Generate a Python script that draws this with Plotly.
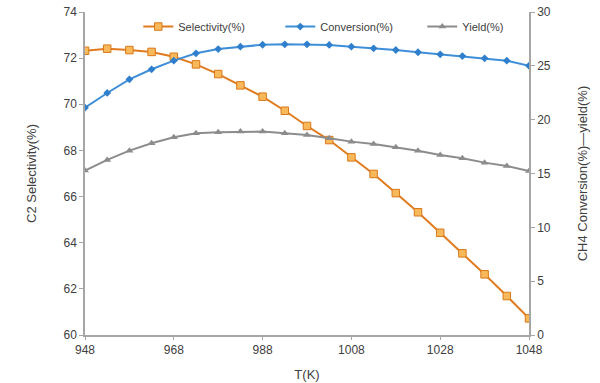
import plotly.graph_objects as go

temps = [948, 953, 958, 963, 968, 973, 978, 983, 988, 993, 998, 1003, 1008,
         1013, 1018, 1023, 1028, 1033, 1038, 1043, 1048]
selectivity = [72.32, 72.41, 72.35, 72.27, 72.06, 71.73, 71.31, 70.82, 70.33, 69.72,
               69.06, 68.45, 67.70, 66.98, 66.15, 65.32, 64.43, 63.54, 62.63, 61.69, 60.72]
conversion = [21.11, 22.48, 23.75, 24.68, 25.48, 26.16, 26.56, 26.78, 26.96, 27.0,
              27.0, 26.94, 26.78, 26.63, 26.47, 26.26, 26.07, 25.91, 25.70, 25.48, 25.01]
yield_ = [15.27, 16.26, 17.12, 17.81, 18.37, 18.74, 18.83, 18.89, 18.89, 18.74,
          18.58, 18.27, 17.96, 17.74, 17.44, 17.12, 16.72, 16.42, 16.01, 15.70, 15.24]

font_family = "Liberation Sans, Arial, sans-serif"
txt = "#404040"
axc = "#A6A6A6"

fig = go.Figure()
fig.add_trace(go.Scatter(
    x=temps, y=selectivity, name="Selectivity(%)", mode="lines+markers",
    line=dict(color="#E07B1F", width=2),
    marker=dict(symbol="square", size=7.5, color="#F8B95A",
                line=dict(color="#D9781A", width=1)),
    yaxis="y"))
fig.add_trace(go.Scatter(
    x=temps, y=conversion, name="Conversion(%)", mode="lines+markers",
    line=dict(color="#3F8FD8", width=2),
    marker=dict(symbol="diamond", size=6, color="#2F7FCC"),
    yaxis="y2"))
fig.add_trace(go.Scatter(
    x=temps, y=yield_, name="Yield(%)", mode="lines+markers",
    line=dict(color="#8C8C8C", width=2),
    marker=dict(symbol="triangle-up", size=7, color="#8C8C8C"),
    yaxis="y2"))

fig.update_layout(
    width=600, height=383,
    margin=dict(l=85, r=71, t=12, b=48),
    paper_bgcolor="white", plot_bgcolor="white",
    font=dict(family=font_family, size=12, color=txt),
    showlegend=True,
    legend=dict(orientation="h", x=0.12, y=0.955, xanchor="left", yanchor="middle",
                bgcolor="rgba(0,0,0,0)", font=dict(size=11, color=txt),
                itemwidth=30, tracegroupgap=0, entrywidth=97, entrywidthmode="pixels"),
    xaxis=dict(range=[948, 1048], tickvals=[948, 968, 988, 1008, 1028, 1048],
               showgrid=False, zeroline=False, showline=True, linecolor=axc, linewidth=1.5,
               ticks="outside", ticklen=3, tickcolor=axc, automargin=False,
               title=dict(text="T(K)", standoff=14, font=dict(size=13, color=txt)),
               tickfont=dict(size=12, color=txt)),
    yaxis=dict(range=[60, 74], tickvals=[60, 62, 64, 66, 68, 70, 72, 74],
               showgrid=False, zeroline=False, showline=True, linecolor=axc, linewidth=1.5,
               ticks="outside", ticklen=4, tickcolor=axc, automargin=False,
               title=dict(text="C2 Selectivity(%)", standoff=24, font=dict(size=13, color=txt)),
               tickfont=dict(size=12, color=txt)),
    yaxis2=dict(range=[0, 30], tickvals=[0, 5, 10, 15, 20, 25, 30], overlaying="y", side="right",
                showgrid=False, zeroline=False, showline=True, linecolor=axc, linewidth=1.5,
                ticks="outside", ticklen=4, tickcolor=axc, automargin=False,
                title=dict(text="CH4 Conversion(%)—yield(%)", standoff=28,
                           font=dict(size=13, color=txt)),
                tickfont=dict(size=12, color=txt)),
)

fig.write_html("out.html")
